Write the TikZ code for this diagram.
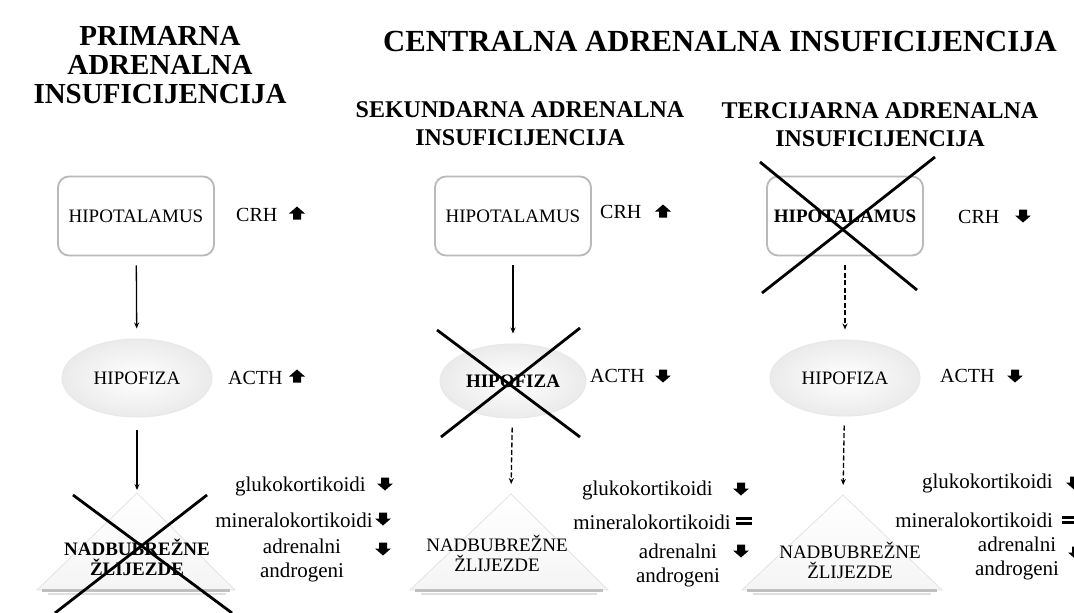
\documentclass[tikz,border=0pt]{standalone}
\usepackage{fontspec}
\setmainfont{Liberation Serif}[BoldFont={Liberation Serif Bold}]
\usetikzlibrary{arrows.meta,shapes.geometric}
\begin{document}
\begin{tikzpicture}[x=1pt,y=-1pt,
  every node/.style={inner sep=0pt},
  head/.style={font=\fontsize{29}{29}\selectfont\bfseries, align=center},
  subhead/.style={font=\fontsize{24}{28}\selectfont\bfseries, align=center},
  lbl/.style={font=\fontsize{20}{24}\selectfont},
  horm/.style={font=\fontsize{21}{24}\selectfont, align=center},
  hbox/.style={draw=gray!55, line width=1.8pt, rounded corners=11pt, fill=white,
    minimum width=156pt, minimum height=79pt, font=\fontsize{19}{22}\selectfont},
  pit/.style={ellipse, inner color=white, outer color=gray!16, draw=gray!18, line width=1pt,
    minimum width=150pt, minimum height=78pt, font=\fontsize{19}{22}\selectfont},
  gland/.style={font=\fontsize{19}{20}\selectfont, align=center},
  tri/.style={top color=white, bottom color=gray!8, draw=gray!22, line width=0.8pt},
  triband/.style={draw=gray!50, line width=3pt},
  conn/.style={draw=black, line width=1.3pt, -{Stealth[length=6pt,width=5pt]}},
  dconn/.style={conn, dash pattern=on 5pt off 2.5pt},
  cross/.style={draw=black, line width=2.8pt},
  uparr/.pic={\fill (0,-6.5) -- (8,0.5) -- (4,0.5) -- (4,6.5) -- (-4,6.5) -- (-4,0.5) -- (-8,0.5) -- cycle;},
  downarr/.pic={\fill (0,6.5) -- (8,-0.5) -- (4,-0.5) -- (4,-6.5) -- (-4,-6.5) -- (-4,-0.5) -- (-8,-0.5) -- cycle;},
  eqsign/.pic={\fill (-8,-4) rectangle (8,-1.2); \fill (-8,1.2) rectangle (8,4);}
]
\clip (0,0) rectangle (1074,613);
\fill[white] (0,0) rectangle (1074,613);

% headings
\node[head] (h1) at (160,65) {PRIMARNA\\ADRENALNA\\INSUFICIJENCIJA};
\node[head, font=\fontsize{30.7}{31}\selectfont\bfseries] (h2) at (720,41) {CENTRALNA ADRENALNA INSUFICIJENCIJA};
\node[subhead] (h3) at (520,124) {SEKUNDARNA ADRENALNA\\INSUFICIJENCIJA};
\node[subhead] (h4) at (880,125) {TERCIJARNA ADRENALNA\\INSUFICIJENCIJA};

% ---------- column 1 ----------
\node[hbox] (hyp1) at (136,216) {HIPOTALAMUS};
\node[lbl, anchor=west] (crh1) at (236,215) {CRH};
\pic at (297,213) {uparr};
\node[pit] (pit1) at (137,378) {HIPOFIZA};
\node[lbl, anchor=west] (acth1) at (228,378) {ACTH};
\pic at (297,376) {uparr};
\coordinate (t1) at (137,493);
\path[tri] (t1) -- (235,590) -- (37,590) -- cycle;
\draw[triband] (42,590) -- (230,590);
\draw[gray!25, line width=2pt] (48,594) -- (226,594);
\node[gland, font=\fontsize{19}{20}\selectfont\bfseries] (g1) at (137,557) {NADBUBREŽNE\\ŽLIJEZDE};
\draw[conn, shorten <=9pt, shorten >=10pt] (hyp1) -- (pit1);
\draw[conn, shorten <=12pt, shorten >=3pt] (pit1) -- (t1);
\node[horm, anchor=east] (gl1) at (366,486) {glukokortikoidi};
\pic at (385,484) {downarr};
\node[horm, anchor=east] (mi1) at (373,520) {mineralokortikoidi};
\pic at (383,519) {downarr};
\node[horm] (an1) at (302,560) {adrenalni\\androgeni};
\pic at (383,549) {downarr};
\draw[cross] (73,495) -- (232,613);
\draw[cross] (207,495) -- (55,613);

% ---------- column 2 ----------
\node[hbox] (hyp2) at (513,216) {HIPOTALAMUS};
\node[lbl, anchor=west] (crh2) at (600,212) {CRH};
\pic at (663,211) {uparr};
\node[pit, minimum width=146pt, minimum height=74pt, font=\fontsize{19}{22}\selectfont\bfseries] (pit2) at (513,381) {HIPOFIZA};
\node[lbl, anchor=west] (acth2) at (590,376) {ACTH};
\pic at (663,376) {downarr};
\coordinate (t2) at (511,494);
\path[tri] (t2) -- (608,590) -- (410,590) -- cycle;
\draw[triband] (415,590) -- (603,590);
\draw[gray!25, line width=2pt] (421,594) -- (597,594);
\node[gland] (g2) at (497,553) {NADBUBREŽNE\\ŽLIJEZDE};
\draw[conn, shorten <=9pt, shorten >=10pt] (hyp2) -- (pit2);
\draw[dconn, shorten <=9pt, shorten >=10pt] (pit2) -- (t2);
\node[horm, anchor=east] (gl2) at (713,490) {glukokortikoidi};
\pic at (741,489) {downarr};
\node[horm, anchor=east] (mi2) at (731,522) {mineralokortikoidi};
\pic at (744,521) {eqsign};
\node[horm] (an2) at (678,565) {adrenalni\\androgeni};
\pic at (741,551) {downarr};
\draw[cross] (437,330) -- (580,437);
\draw[cross] (580,328) -- (441,437);

% ---------- column 3 ----------
\node[hbox, font=\fontsize{19}{22}\selectfont\bfseries] (hyp3) at (845,216) {HIPOTALAMUS};
\node[lbl, anchor=west] (crh3) at (958,217) {CRH};
\pic at (1023,216) {downarr};
\node[pit, minimum height=76pt] (pit3) at (845,378) {HIPOFIZA};
\node[lbl, anchor=west] (acth3) at (940,376) {ACTH};
\pic at (1015,376) {downarr};
\coordinate (t3) at (843,495);
\path[tri] (t3) -- (942,590) -- (742,590) -- cycle;
\draw[triband] (747,590) -- (937,590);
\draw[gray!25, line width=2pt] (753,594) -- (931,594);
\node[gland] (g3) at (850,560) {NADBUBREŽNE\\ŽLIJEZDE};
\draw[dconn, shorten <=9pt, shorten >=10pt] (hyp3) -- (pit3);
\draw[dconn, shorten <=9pt, shorten >=10pt] (pit3) -- (t3);
\node[horm, anchor=east] (gl3) at (1053,483) {glukokortikoidi};
\pic at (1074,483) {downarr};
\node[horm, anchor=east] (mi3) at (1053,520) {mineralokortikoidi};
\pic at (1070,520) {eqsign};
\node[horm] (an3) at (1017,558) {adrenalni\\androgeni};
\pic at (1076,553) {downarr};
\draw[cross] (760,162) -- (917,290);
\draw[cross] (935,157) -- (762,293);
\end{tikzpicture}
\end{document}
